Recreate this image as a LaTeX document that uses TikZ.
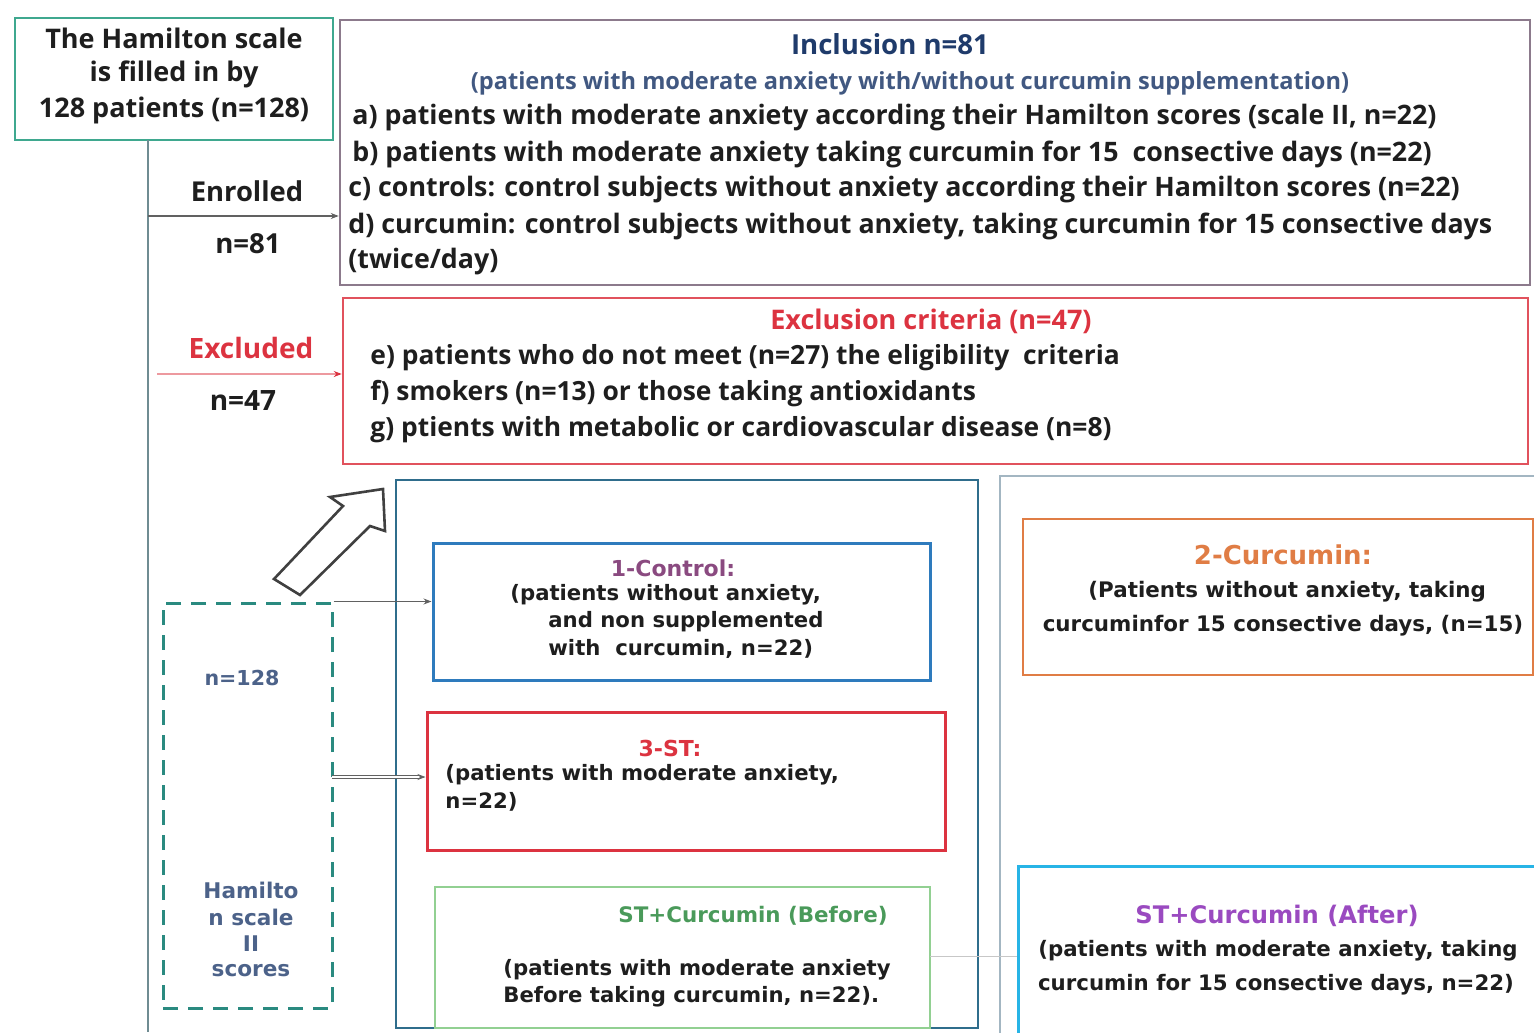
\documentclass[tikz,border=0pt]{standalone}
\usepackage{fontspec}
\setmainfont{Open Sans}
\newfontfamily\widefont{DejaVu Sans}
\usetikzlibrary{arrows.meta}

\definecolor{ink}{HTML}{1E1E1E}
\definecolor{cTeal}{HTML}{3FA88F}
\definecolor{cTrunk}{HTML}{6F8C92}
\definecolor{cIncl}{HTML}{8C7A8C}
\definecolor{cNavy}{HTML}{1F3B6B}
\definecolor{cRed}{HTML}{DC3340}
\definecolor{cGrp}{HTML}{2F6D8C}
\definecolor{cRgrp}{HTML}{A3B6C2}
\definecolor{cCtrl}{HTML}{2E7BBD}
\definecolor{cCtrlT}{HTML}{8A4A80}
\definecolor{cBef}{HTML}{92D092}
\definecolor{cBefT}{HTML}{4A9A5A}
\definecolor{cCurc}{HTML}{E07D45}
\definecolor{cAft}{HTML}{28B4E6}
\definecolor{cAftT}{HTML}{9A4AC0}
\definecolor{cDash}{HTML}{2A8A80}

\begin{document}
\begin{tikzpicture}[x=0.5pt, y=-0.5pt,
    box/.style = {draw, line width=1.25pt, inner sep=0pt},
    sz/.style 2 args = {minimum width=#1*0.5pt, minimum height=#2*0.5pt},
    txt/.style = {inner sep=0pt, text=ink},
    fsz/.style = {font=\bfseries\fontsize{#1}{#1}\selectfont},
    wsz/.style = {font=\widefont\bfseries\fontsize{#1}{#1}\selectfont},
    link/.style = {line width=0.6pt, draw=ink!70, -{Stealth[length=4pt, width=3pt]}}]
    \useasboundingbox (0,0) rectangle (1534,1032);

    % Boxes
    \node[box, draw=cTeal, sz={318}{122}] (hamil) at (174,79) {};
    \node[box, draw=cIncl, sz={1190}{265}] (incl) at (935,152.5) {};
    \node[box, draw=cRed!85, sz={1185}{166}] (excl) at (935.5,381) {};
    \node[box, draw=cGrp, sz={582}{548}] (grp) at (687,754) {};
    \node[box, draw=cRgrp, line width=1pt, sz={560}{584}] (rgrp) at (1280,768) {};
    \node[box, draw=cCtrl, line width=1.5pt, sz={497}{137}] (ctrl) at (681.5,611.5) {};
    \node[box, draw=cRed, line width=1.5pt, sz={518}{138}] (st) at (686,781) {};
    \node[box, draw=cBef, line width=1pt, sz={495}{141}] (bef) at (682.5,957.5) {};
    \node[box, draw=cCurc, sz={510}{156}] (curc) at (1278,597) {};
    \node[box, draw=cAft, line width=1.5pt, sz={522}{174}] (aft) at (1279,953) {};
    \node[box, draw=cDash, line width=1.5pt, dash pattern=on 7.5pt off 5pt, sz={169}{405}] (dash) at (247.5,805.5) {};

    % Texts
    \node[txt, fsz=13.5] (h1) at (174,38) {The Hamilton scale};
    \node[txt, fsz=13.5] (h2) at (174,74) {is filled in by};
    \node[txt, fsz=13.5] (h3) at (174,110) {128 patients (n=128)};

    \node[txt, fsz=13.8, text=cNavy] (inT) at (890,44) {Inclusion n=81};
    \node[txt, fsz=11.8, text=cNavy!85] (inS) at (910,83) {(patients with moderate anxiety with/without curcumin supplementation)};
    \node[txt, fsz=13.4, anchor=west] (inA) at (352,118) {a) patients with moderate anxiety according their Hamilton scores (scale II, n=22)};
    \node[txt, fsz=13.4, anchor=west] (inB) at (352,154) {b) patients with moderate anxiety taking curcumin for 15\ \ consective days (n=22)};
    \node[txt, fsz=13.4, anchor=west] (inC) at (348,190) {c) controls: control subjects without anxiety according their Hamilton scores (n=22)};
    \node[txt, fsz=13.4, anchor=west] (inD) at (348,226) {d) curcumin: control subjects without anxiety, taking curcumin for 15 consective days};
    \node[txt, fsz=13.4, anchor=west] (inE) at (348,262) {(twice/day)};

    \node[txt, fsz=13.5, text=cRed] (exT) at (931,321) {Exclusion criteria (n=47)};
    \node[txt, fsz=13.2, anchor=west] (exE) at (370,358) {e) patients who do not meet (n=27) the eligibility\ \ criteria};
    \node[txt, fsz=13.2, anchor=west] (exF) at (370,394) {f) smokers (n=13) or those taking antioxidants};
    \node[txt, fsz=13.2, anchor=west] (exG) at (370,430) {g) ptients with metabolic or cardiovascular disease (n=8)};

    \node[txt, fsz=13.7] (enrT) at (247,191) {Enrolled};
    \node[txt, fsz=13.8] (enrN) at (248,244) {n=81};
    \node[txt, fsz=14, text=cRed] (excT) at (251,348) {Excluded};
    \node[txt, fsz=14] (excN) at (243,401) {n=47};

    \node[txt, wsz=11, text=cCtrlT] (ctT) at (673,568) {1-Control:};
    \node[txt, wsz=10.6, anchor=west] (ct1) at (510,595) {(patients without anxiety,};
    \node[txt, wsz=10.6, anchor=west] (ct2) at (548,622) {and non supplemented};
    \node[txt, wsz=10.6, anchor=west] (ct3) at (548,649) {with\ \ curcumin, n=22)};

    \node[txt, wsz=11, text=cRed] (stT) at (670,748) {3-ST:};
    \node[txt, wsz=10.6, anchor=west] (st1) at (445,775) {(patients with moderate anxiety,};
    \node[txt, wsz=10.6, anchor=west] (st2) at (445,802) {n=22)};

    \node[txt, wsz=10.7, text=cBefT] (bfT) at (753,916) {ST+Curcumin (Before)};
    \node[txt, wsz=10.6, anchor=west] (bf1) at (503,970) {(patients with moderate anxiety};
    \node[txt, wsz=10.6, anchor=west] (bf2) at (503,997) {Before taking curcumin, n=22).};

    \node[txt, wsz=13, text=cCurc] (cuT) at (1283,555) {2-Curcumin:};
    \node[txt, wsz=10.7, anchor=west] (cu1) at (1088,592) {(Patients without anxiety, taking};
    \node[txt, wsz=10.7] (cu2) at (1283,626) {curcuminfor 15 consective days, (n=15)};

    \node[txt, wsz=12.1, text=cAftT] (afT) at (1277,916) {ST+Curcumin (After)};
    \node[txt, wsz=10.65] (af1) at (1278,951) {(patients with moderate anxiety, taking};
    \node[txt, wsz=10.65] (af2) at (1276,985) {curcumin for 15 consective days, n=22)};

    \node[txt, wsz=10.3, text=cNavy!80] (dsN) at (242,678) {n=128};
    \node[txt, wsz=10.8, text=cNavy!80] (ds1) at (251,890) {Hamilto};
    \node[txt, wsz=10.8, text=cNavy!80] (ds2) at (251,917) {n scale};
    \node[txt, wsz=10.8, text=cNavy!80] (ds3) at (251,944) {II};
    \node[txt, wsz=10.8, text=cNavy!80] (ds4) at (251,971) {scores};

    % Connectors
    \coordinate (top) at (148,140);
    \coordinate (bot) at (148,1032);
    \draw[cTrunk, line width=1pt] (top) -- (bot);
    \coordinate (enr) at (148,216);
    \draw[link] (enr) -- (enr -| incl.west);
    \coordinate (exc) at (157,374);
    \draw[link, line width=0.8pt, draw=cRed!50, -{Stealth[length=4pt, width=3pt, color=cRed]}] (exc) -- (exc -| excl.west);
    \draw[link, line width=0.5pt] (dash.north east) -- (dash.north east -| ctrl.west);
    \coordinate (dst) at (332,777);
    \draw[link, line width=0.4pt, double, double distance=1.2pt] (dst) -- (dst -| st.west);
    \coordinate (ba) at (930,956);
    \draw[ink!25, line width=0.5pt] (ba) -- (ba -| aft.west);

    % Hollow arrow
    \draw[ink!85, line width=1.3pt, line join=miter, fill=white]
        (274,579) -- (343,506) -- (330,497) -- (383,489) -- (385,531) -- (370,526) -- (300,595) -- cycle;
\end{tikzpicture}
\end{document}
